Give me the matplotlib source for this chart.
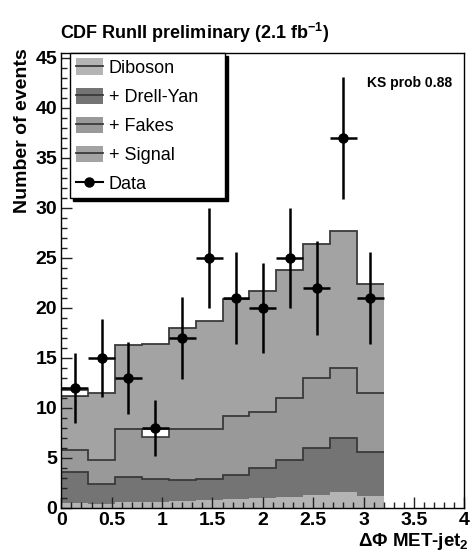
import numpy as np
import matplotlib
matplotlib.use("Agg")
import matplotlib.pyplot as plt
from matplotlib.patches import Patch
from matplotlib.lines import Line2D
from matplotlib.ticker import MultipleLocator, FuncFormatter

# bin edges in delta phi (12 bins from 0 to 3.2)
edges = np.linspace(0.0, 3.2, 13)

# stacked tops
stack_diboson = [0.5, 0.4, 0.6, 0.6, 0.7, 0.8, 0.9, 1.0, 1.1, 1.3, 1.6, 1.2]
stack_drellyan = [3.6, 2.4, 3.1, 2.9, 2.8, 2.9, 3.3, 4.0, 4.8, 6.0, 7.0, 5.6]
stack_fakes = [5.8, 4.8, 7.9, 7.9, 7.9, 7.9, 9.2, 9.6, 11.0, 13.0, 14.0, 11.5]
stack_signal = [11.2, 11.5, 16.3, 16.4, 18.0, 18.7, 20.9, 21.7, 23.8, 26.4, 27.7, 22.4]

# data counts
data = [12, 15, 13, 8, 17, 25, 21, 20, 25, 22, 37, 21]

# small white boxes seen in bins 1 and 4
box_bin = [0, 3]
box_lo = [11.2, 7.1]
box_hi = [11.8, 7.9]

labels = ["Diboson", "+ Drell-Yan", "+ Fakes", "+ Signal"]
colors = ["#b4b4b4", "#747474", "#999999", "#a3a3a3"]
line_col = "#3a3a3a"

plt.rcParams["font.family"] = ["Liberation Sans", "DejaVu Sans"]
plt.rcParams["mathtext.fontset"] = "custom"
plt.rcParams["mathtext.rm"] = "Liberation Sans:bold"
plt.rcParams["mathtext.it"] = "Liberation Sans:bold"
plt.rcParams["mathtext.bf"] = "Liberation Sans:bold"

fig = plt.figure(figsize=(4.72, 5.57), dpi=100)
ax = fig.add_axes([61.3 / 472, 49 / 557, 403 / 472, 455 / 557])

# stack, drawn from the top layer down
stacks = [stack_diboson, stack_drellyan, stack_fakes, stack_signal]
for vals, col in reversed(list(zip(stacks, colors))):
    ax.stairs(vals, edges, fill=True, color=col, baseline=0)
for vals in stacks[1:]:
    ax.stairs(vals, edges, color=line_col, linewidth=1.3, baseline=None)

# white boxes
w = edges[1] - edges[0]
centers = 0.5 * (edges[:-1] + edges[1:])
ax.bar([centers[b] for b in box_bin], np.array(box_hi) - np.array(box_lo),
       bottom=box_lo, width=w, color="white", edgecolor=line_col, linewidth=1.2)

# data points
ax.errorbar(centers, data, xerr=w / 2, yerr=np.sqrt(data), fmt="o",
            color="black", ms=6.5, elinewidth=1.8, capsize=0, zorder=5)

ax.set_xlim(0, 4)
ax.set_ylim(0, 45.5)
ax.xaxis.set_major_locator(MultipleLocator(0.5))
ax.xaxis.set_minor_locator(MultipleLocator(0.1))
ax.yaxis.set_major_locator(MultipleLocator(5))
ax.yaxis.set_minor_locator(MultipleLocator(1))
ax.xaxis.set_major_formatter(FuncFormatter(lambda v, p: "%g" % v))
ax.yaxis.set_major_formatter(FuncFormatter(lambda v, p: "%g" % v))
ax.tick_params(which="both", direction="in", top=False, right=False,
               labelsize=14, width=1.0, color="#222222")
ax.tick_params(which="major", length=8, pad=3)
ax.tick_params(which="minor", length=4)
for lab in ax.get_xticklabels() + ax.get_yticklabels():
    lab.set_fontweight("bold")
for s in ax.spines.values():
    s.set_linewidth(1.0)

ax.set_ylabel("Number of events", fontsize=14, fontweight="bold", loc="top")
ax.yaxis.set_label_coords(-0.075, 1.01)
ax.set_xlabel(r"$\Delta\Phi$ MET-jet$_{2}$", fontsize=13.5, fontweight="bold", loc="right")
ax.xaxis.set_label_coords(1.01, -0.05)

ax.text(3.88, 42.5, "KS prob 0.88", fontsize=10, fontweight="bold",
        ha="right", va="center")
fig.text(60 / 472, 1 - 33 / 557, r"CDF RunII preliminary (2.1 fb$^{-1}$)",
         fontsize=13, fontweight="bold", ha="left", va="center")

handles = [(Patch(facecolor=c, edgecolor="none"), Line2D([], [], color=line_col, lw=1.3))
           for c in colors]
handles.append(Line2D([], [], color="black", marker="o", ms=6.5, lw=1.5))
leg = ax.legend(handles, labels + ["Data"], loc="upper left",
                bbox_to_anchor=(0.022, 1.0, 0.384, 0.0), mode="expand",
                fontsize=13, frameon=True, fancybox=False, edgecolor="black",
                framealpha=1, borderpad=0.3, labelspacing=0.6,
                handlelength=1.5, handleheight=1.0, handletextpad=0.35,
                borderaxespad=0,
                shadow={"color": "black", "alpha": 1})
leg.get_frame().set_linewidth(1.0)

fig.savefig("out.png", dpi=100)
